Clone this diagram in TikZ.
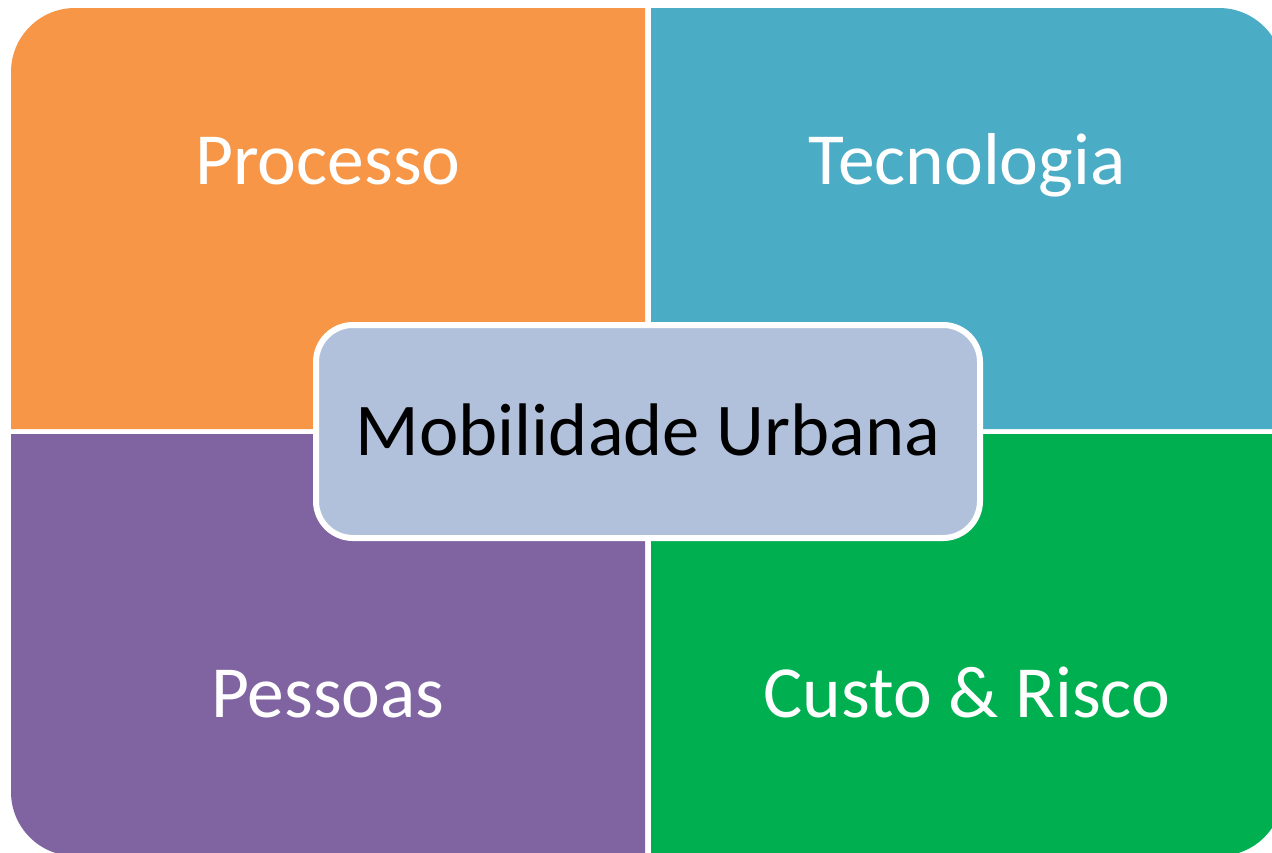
\documentclass[tikz,border=0pt]{standalone}
\usepackage{fontspec}
\setmainfont{Carlito}
\definecolor{qorange}{HTML}{F79646}
\definecolor{qteal}{HTML}{4BACC6}
\definecolor{qpurple}{HTML}{8064A2}
\definecolor{qgreen}{HTML}{00B050}
\definecolor{hubfill}{HTML}{B2C1DB}
\tikzset{
  quadlabel/.style={text=white, anchor=base, inner sep=0pt, font=\fontsize{73.5}{88}\selectfont},
  hubbox/.style={draw=white, line width=6pt, fill=hubfill, rounded corners=37pt,
    minimum width=664pt, minimum height=213pt, inner sep=0pt,
    text=black, font=\fontsize{74.5}{89}\selectfont, text height=47pt, text depth=0pt}
}
\begin{document}
\begin{tikzpicture}[x=1pt,y=1pt]
\useasboundingbox (0,0) rectangle (1272,-852);
\fill[white] (0,0) rectangle (1272,-852);
\clip (0,0) rectangle (1272,-852);
% quadrants
\fill[qorange] (11,-429) -- (11,-72) arc[start angle=180,end angle=90,radius=64] -- (645,-8) -- (645,-429) -- cycle;
\fill[qteal] (651,-8) -- (1219,-8) arc[start angle=90,end angle=0,radius=64] -- (1283,-429) -- (651,-429) -- cycle;
\fill[qpurple] (11,-434) -- (11,-792) arc[start angle=180,end angle=270,radius=64] -- (645,-856) -- (645,-434) -- cycle;
\fill[qgreen] (651,-434) -- (1283,-434) -- (1283,-792) arc[start angle=0,end angle=-90,radius=64] -- (651,-856) -- cycle;
% labels
\node[quadlabel] (processo) at (328,-184) {Processo};
\node[quadlabel] (tecnologia) at (967,-184) {Tecnologia};
\node[quadlabel] (pessoas) at (328,-717) {Pessoas};
\node[quadlabel] (custo) at (967,-717) {Custo \& Risco};
% hub
\node[hubbox] (hub) at (648,-431.5) {Mobilidade Urbana};
\end{tikzpicture}
\end{document}
